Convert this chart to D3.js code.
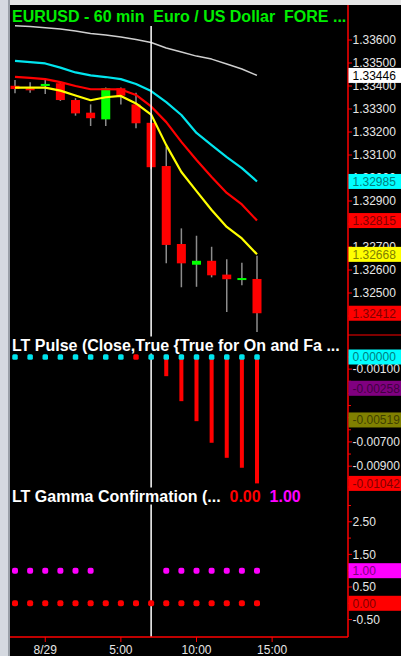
<!DOCTYPE html>
<html>
<head>
<meta charset="utf-8">
<script src="https://cdn.jsdelivr.net/npm/d3@7"></script>
<style>
  html, body { margin: 0; padding: 0; background: #000; overflow: hidden; }
  svg { display: block; }
  text { font-family: "Liberation Sans", Arial, sans-serif; }
</style>
</head>
<body>
<svg id="chart" width="401" height="656"></svg>
<script>
// ---- EURUSD 60-minute bars, 22:00 (8/28) through 14:00 (8/29) ----
const barIndex = d3.range(17);
const openPx  = [1.33401, 1.33390, 1.33400, 1.33412, 1.33339, 1.33284, 1.33255, 1.33390, 1.33320,
                 1.33240, 1.33052, 1.32713, 1.32623, 1.32640, 1.32580, 1.32557, 1.32561];
const highPx  = [1.33426, 1.33416, 1.33426, 1.33413, 1.33347, 1.33320, 1.33394, 1.33394, 1.33371,
                 1.33252, 1.33136, 1.32781, 1.32749, 1.32701, 1.32647, 1.32632, 1.32662];
const lowPx   = [1.33368, 1.33371, 1.33365, 1.33335, 1.33271, 1.33226, 1.33226, 1.33320, 1.33216,
                 1.33040, 1.32629, 1.32525, 1.32527, 1.32568, 1.32417, 1.32534, 1.32330];
const closePx = [1.33387, 1.33388, 1.33409, 1.33339, 1.33281, 1.33260, 1.33390, 1.33358, 1.33238,
                 1.33047, 1.32709, 1.32629, 1.32640, 1.32577, 1.32560, 1.32565, 1.32412];

// moving averages plotted over the bars
const maLong   = [1.33662, 1.33659, 1.33653, 1.33648, 1.33639, 1.33628, 1.33622, 1.33613, 1.33602,
                  1.33589, 1.33565, 1.33548, 1.33530, 1.33517, 1.33496, 1.33474, 1.33446];
const maCyan   = [1.33509, 1.33504, 1.33498, 1.33480, 1.33459, 1.33446, 1.33439, 1.33430, 1.33409,
                  1.33378, 1.33330, 1.33274, 1.33196, 1.33143, 1.33091, 1.33043, 1.32985];
const maRed    = [1.33440, 1.33435, 1.33430, 1.33417, 1.33400, 1.33386, 1.33386, 1.33385, 1.33361,
                  1.33311, 1.33243, 1.33157, 1.33078, 1.33004, 1.32935, 1.32885, 1.32815];
const maYellow = [1.33393, 1.33393, 1.33393, 1.33380, 1.33359, 1.33338, 1.33351, 1.33357, 1.33324,
                  1.33276, 1.33143, 1.33026, 1.32943, 1.32861, 1.32787, 1.32737, 1.32668];

// LT Pulse: histogram values and on/off signal (1 = on, 0 = off)
const pulseValue  = [0, 0, 0, 0, 0, 0, 0, 0, 0, 0, -0.00158, -0.00364, -0.00529, -0.00707, -0.00831, -0.00913, -0.01042];
const pulseSignal = [1, 1, 1, 1, 1, 1, 1, 1, 0, 1, 1, 1, 1, 1, 1, 1, 1];
const pulseOtherLevels = [-0.00258, -0.00519];
const pulseOtherColors = ["#800080", "#808000"];

// LT Gamma Confirmation: base line at 0 and confirmation at 1 (null = none)
const gammaBase    = [0, 0, 0, 0, 0, 0, 0, 0, 0, 0, 0, 0, 0, 0, 0, 0, 0];
const gammaConfirm = [1, 1, 1, 1, 1, 1, null, null, null, null, 1, 1, 1, 1, 1, 1, 1];

// time axis
const timeTickIndex = [2, 7, 12, 17];
const timeTickLabel = ["8/29", "5:00", "10:00", "15:00"];
const markerIndex = 9;

// value axes (labels that sit fully under a last-value plate are left out)
const priceTicks = d3.range(1.324, 1.33601, 0.001);
const priceTickLabels = [1.336, 1.335, 1.334, 1.333, 1.332, 1.331, 1.330, 1.329, 1.327, 1.326, 1.325];
const pulseMajorTicks = [-0.001, -0.003, -0.005, -0.007, -0.009];
const pulseTickLabels = [-0.001, -0.005, -0.007, -0.009];
const pulseMinorTicks = [0, -0.002, -0.004, -0.006, -0.008, -0.010];
const gammaMajorTicks = [2.5, 1.5, 0.5, -0.5];
const gammaMinorTicks = [3, 2, 1, 0];

// ---- layout ----
const W = 401, H = 656;
const plotL = 10, axisX = 348, plotT = 5, plotB = 637;
const priceBox = [plotT, 335], pulseBox = [335, 487], gammaBox = [487, plotB];

const svg = d3.select("#chart");

const x = d3.scaleLinear().domain([0, 16]).range([15, 257]);
const yPrice = d3.scaleLinear().domain([1.323174, 1.337522]).range([priceBox[1], priceBox[0]]);
const yPulse = d3.scaleLinear().domain([-0.010717, 0.001814]).range([pulseBox[1], pulseBox[0]]);
const yGamma = d3.scaleLinear().domain([-1.034, 3.567]).range([gammaBox[1], gammaBox[0]]);

// frame
svg.append("rect").attr("width", W).attr("height", H).attr("fill", "#000");
svg.append("rect").attr("x", 0).attr("y", 0).attr("width", W).attr("height", plotT).attr("fill", "#e6e6e6");
svg.append("rect").attr("x", 0).attr("y", 0).attr("width", 8).attr("height", H).attr("fill", "#d5d9e0");
svg.append("rect").attr("x", 8).attr("y", 0).attr("width", 2).attr("height", H).attr("fill", "#9aa0a8");

const halfTone = c => { const k = d3.rgb(c); return d3.rgb(k.r / 2, k.g / 2, k.b / 2).formatHex(); };

// ---- price panel ----
const price = svg.append("g");
const candleW = 9;
barIndex.forEach(i => {
  price.append("line")
    .attr("x1", x(i)).attr("x2", x(i))
    .attr("y1", yPrice(highPx[i])).attr("y2", yPrice(lowPx[i]))
    .attr("stroke", "#8c8c8c").attr("stroke-width", 1.5);
});
barIndex.forEach(i => {
  const up = closePx[i] >= openPx[i];
  const yTop = yPrice(Math.max(openPx[i], closePx[i]));
  const yBot = yPrice(Math.min(openPx[i], closePx[i]));
  price.append("rect")
    .attr("x", x(i) - candleW / 2).attr("width", candleW)
    .attr("y", yTop).attr("height", Math.max(2, yBot - yTop))
    .attr("fill", up ? "#00ff00" : "#ff0000");
});

// session marker
svg.append("line")
  .attr("x1", x(markerIndex)).attr("x2", x(markerIndex))
  .attr("y1", 26).attr("y2", plotB)
  .attr("stroke", "#ffffff").attr("stroke-width", 1.5);

const lineGen = yScale => d3.line().x((d, i) => x(i)).y(d => yScale(d));
[[maLong, "#cfcfcf", 1.5], [maCyan, "#00e5ee", 2.2], [maRed, "#ff0000", 2.2], [maYellow, "#ffff00", 2.2]]
  .forEach(([data, col, w]) => {
    price.append("path").datum(data)
      .attr("d", lineGen(yPrice))
      .attr("fill", "none").attr("stroke", col).attr("stroke-width", w)
      .attr("stroke-linejoin", "round");
  });

// ---- pulse panel ----
const pulse = svg.append("g");
barIndex.forEach(i => {
  if (pulseValue[i] < 0) {
    pulse.append("rect")
      .attr("x", x(i) - 2).attr("width", 4)
      .attr("y", yPulse(0)).attr("height", yPulse(pulseValue[i]) - yPulse(0))
      .attr("fill", "#ff0000");
  }
});
barIndex.forEach(i => {
  pulse.append("rect")
    .attr("x", x(i) - 2.75).attr("y", yPulse(0) - 2.75)
    .attr("width", 5.5).attr("height", 5.5).attr("rx", 1.5)
    .attr("fill", pulseSignal[i] ? "#00e5ee" : "#ff0000");
});

// ---- gamma panel ----
const gamma = svg.append("g");
barIndex.forEach(i => {
  gamma.append("rect")
    .attr("x", x(i) - 3).attr("y", yGamma(gammaBase[i]) - 3)
    .attr("width", 6).attr("height", 6).attr("rx", 2)
    .attr("fill", "#ff0000");
  if (gammaConfirm[i] !== null) {
    gamma.append("rect")
      .attr("x", x(i) - 3).attr("y", yGamma(gammaConfirm[i]) - 3)
      .attr("width", 6).attr("height", 6).attr("rx", 2)
      .attr("fill", "#ff00ff");
  }
});

// ---- panel titles (drawn on black plates) ----
function title(parts, baseline, size) {
  const g = svg.append("g");
  const plate = g.append("rect").attr("fill", "#000");
  const t = g.append("text").attr("x", 12).attr("y", baseline)
    .attr("font-size", size).attr("font-weight", "bold");
  parts.forEach(([s, c]) => t.append("tspan").attr("fill", c).attr("xml:space", "preserve").text(s));
  const bb = t.node().getBBox();
  plate.attr("x", plotL).attr("y", bb.y).attr("width", bb.x + bb.width - plotL + 2).attr("height", bb.height);
}
title([["EURUSD - 60 min  Euro / US Dollar  FORE ...", "#00ee00"]], 21.5, 16);
title([["LT Pulse (Close,True {True for On and Fa ...", "#ffffff"]], 350.5, 16);
title([["LT Gamma Confirmation (...  ", "#ffffff"],
       [gammaBase[16].toFixed(2), "#ff0000"], ["  ", "#ffffff"],
       [gammaConfirm[16].toFixed(2), "#ff00ff"]], 501.5, 16);

// ---- right value axis ----
const axis = svg.append("g");
axis.append("line").attr("x1", axisX).attr("x2", axisX).attr("y1", plotT).attr("y2", plotB)
  .attr("stroke", "#ff0000").attr("stroke-width", 1.5);
[pulseBox[0], gammaBox[0]].forEach(yy => {
  axis.append("line").attr("x1", axisX).attr("x2", W).attr("y1", yy).attr("y2", yy)
    .attr("stroke", "#ff0000").attr("stroke-width", 1);
});

function tick(yy, len) {
  axis.append("line").attr("x1", axisX).attr("x2", axisX + len).attr("y1", yy).attr("y2", yy)
    .attr("stroke", "#ff0000").attr("stroke-width", 1);
}
function tickLabel(yy, s) {
  axis.append("text").attr("x", 352.5).attr("y", yy).attr("dy", "0.36em")
    .attr("font-size", 12).attr("fill", "#e6e6e6").text(s);
}
priceTicks.forEach(v => tick(yPrice(v), 4));
priceTickLabels.forEach(v => tickLabel(yPrice(v), v.toFixed(5)));
pulseMinorTicks.forEach(v => tick(yPulse(v), 3));
pulseMajorTicks.forEach(v => tick(yPulse(v), 4));
pulseTickLabels.forEach(v => tickLabel(yPulse(v), v.toFixed(5)));
gammaMinorTicks.forEach(v => tick(yGamma(v), 3));
gammaMajorTicks.forEach(v => { tick(yGamma(v), 4); tickLabel(yGamma(v), v.toFixed(2)); });

// last-value plates
function valuePlate(yy, s, bg, fg) {
  axis.append("rect").attr("x", axisX + 0.5).attr("y", yy - 7.5).attr("width", W - axisX).attr("height", 15)
    .attr("fill", bg);
  axis.append("text").attr("x", 352.5).attr("y", yy).attr("dy", "0.36em")
    .attr("font-size", 12).attr("fill", fg || halfTone(bg)).text(s);
}
const last = a => a[a.length - 1];
valuePlate(yPrice(last(maLong)), last(maLong).toFixed(5), "#ffffff", "#000000");
valuePlate(yPrice(last(maCyan)), last(maCyan).toFixed(5), "#00ffff");
valuePlate(yPrice(last(maRed)), last(maRed).toFixed(5), "#ff0000");
valuePlate(yPrice(last(maYellow)), last(maYellow).toFixed(5), "#ffff00");
valuePlate(yPrice(last(closePx)), last(closePx).toFixed(5), "#ff0000");
valuePlate(yPulse(0), (0).toFixed(5), "#00ffff");
pulseOtherLevels.forEach((v, k) => valuePlate(yPulse(v), v.toFixed(5), pulseOtherColors[k]));
valuePlate(yPulse(last(pulseValue)), last(pulseValue).toFixed(5), "#ff0000");
valuePlate(yGamma(last(gammaConfirm)), last(gammaConfirm).toFixed(2), "#ff00ff");
valuePlate(yGamma(last(gammaBase)), last(gammaBase).toFixed(2), "#ff0000");

// ---- time axis ----
const tAxis = svg.append("g");
tAxis.append("line").attr("x1", plotL).attr("x2", axisX).attr("y1", plotB).attr("y2", plotB)
  .attr("stroke", "#ff0000").attr("stroke-width", 1.5);
timeTickIndex.forEach((ti, k) => {
  tAxis.append("line").attr("x1", x(ti)).attr("x2", x(ti)).attr("y1", plotB).attr("y2", plotB + 5)
    .attr("stroke", "#ff0000").attr("stroke-width", 1);
  tAxis.append("text").attr("x", x(ti)).attr("y", 650).attr("dy", "0.36em")
    .attr("text-anchor", "middle").attr("font-size", 12).attr("fill", "#e6e6e6")
    .text(timeTickLabel[k]);
});
</script>
</body>
</html>
